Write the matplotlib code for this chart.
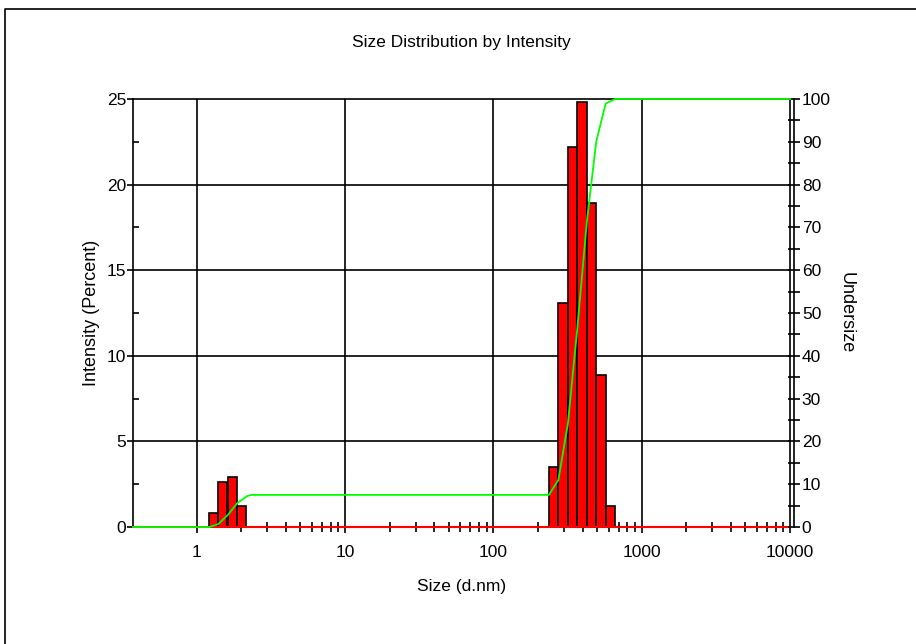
import matplotlib
matplotlib.use('Agg')
import matplotlib.pyplot as plt
from matplotlib.lines import Line2D
from matplotlib.ticker import FixedLocator, NullFormatter

plt.rcParams['font.family'] = ['Liberation Sans', 'DejaVu Sans']

# size classes (d.nm) that hold intensity, and their intensity (%)
size_nm = [1.294, 1.499, 1.736, 2.010,
           255.0, 295.3, 342.0, 396.1, 458.7, 531.2, 615.1]
intensity = [0.8, 2.6, 2.9, 1.2,
             3.5, 13.1, 22.2, 24.8, 18.9, 8.9, 1.2]
class_ratio = 1.158  # spacing between neighbouring size classes

# cumulative undersize curve (%)
undersize_nm = [0.372, 1.22, 1.40, 1.62, 1.88, 2.18, 2.33, 237.0, 274.4,
                318.0, 368.0, 426.3, 493.6, 571.6, 662.0, 10000]
undersize = [0, 0, 0.7, 2.8, 5.6, 7.2, 7.5, 7.5, 11.0,
             24.1, 46.3, 71.1, 90.0, 98.9, 100, 100]

x_major = [1, 10, 100, 1000, 10000]
x_minor = [m * d for d in (1, 10, 100, 1000) for m in range(2, 10)]

fig = plt.figure(figsize=(9.16, 6.44), dpi=100)
ax = fig.add_axes([133 / 916, 1 - 527 / 644, 657 / 916, 428 / 644])
ax2 = ax.twinx()

# outer frame
fig.add_artist(Line2D([5 / 916, 5 / 916, 1], [0, 1 - 9 / 644, 1 - 9 / 644],
                      transform=fig.transFigure, color='black', lw=1.2))

ax.set_xscale('log')
ax.set_xlim(0.372, 10000)
ax.set_ylim(0, 25)
ax2.set_ylim(0, 100)

# grid
for g in x_major[:-1]:
    ax.axvline(g, color='black', lw=1.2, zorder=1)
for g in [5, 10, 15, 20]:
    ax.axhline(g, color='black', lw=1.2, zorder=1)

k = class_ratio ** 0.5
lefts = [s / k for s in size_nm]
widths = [s * k - s / k for s in size_nm]
ax.bar(lefts, intensity, width=widths, align='edge', color='#ff0000',
       edgecolor='black', lw=1.2, zorder=3)
ax.axhline(0, color='#ff0000', lw=1.5, zorder=4, clip_on=False)

ax2.plot(undersize_nm, undersize, color='#00ff00', lw=1.3, zorder=5,
         clip_on=False)
ax2.set_zorder(ax.get_zorder() + 1)
ax2.patch.set_visible(False)

# ticks
ax.xaxis.set_major_locator(FixedLocator(x_major))
ax.xaxis.set_minor_locator(FixedLocator(x_minor))
ax.xaxis.set_minor_formatter(NullFormatter())
ax.set_xticklabels([str(v) for v in x_major])
ax.tick_params(axis='x', which='major', direction='out', length=4,
               width=1.2, labelsize=12.5, pad=9)
ax.tick_params(axis='x', which='minor', direction='inout', length=7,
               width=1.2)
ax.set_yticks([0, 5, 10, 15, 20, 25])
ax.yaxis.set_minor_locator(FixedLocator([2.5, 7.5, 12.5, 17.5, 22.5]))
ax.tick_params(axis='y', which='major', direction='out', length=4,
               width=1.2, labelsize=12.5, pad=1)
ax.tick_params(axis='y', which='minor', direction='in', length=4, width=1.2)
ax.tick_params(axis='y', right=False, which='both')

ax2.set_yticks(range(0, 101, 10))
ax2.yaxis.set_minor_locator(FixedLocator(range(5, 100, 10)))
ax2.tick_params(axis='y', which='both', direction='inout', length=9,
                width=1.2, labelsize=12.5, pad=1)
ax2.spines['right'].set_position(('outward', 3))

for sp in ['left', 'top', 'right', 'bottom']:
    ax.spines[sp].set_linewidth(1.2)
ax2.spines['right'].set_linewidth(1.2)
for sp in ['left', 'top', 'bottom']:
    ax2.spines[sp].set_visible(False)

ax.set_xlabel('Size (d.nm)', fontsize=12.5, labelpad=14)
ax.set_ylabel('Intensity (Percent)', fontsize=13, labelpad=5)
ax2.set_ylabel('Undersize', fontsize=13, rotation=270, labelpad=17)
fig.text(461 / 916, 1 - 43 / 644, 'Size Distribution by Intensity',
         ha='center', va='center', fontsize=12.5)

fig.savefig('out.png', dpi=100)
